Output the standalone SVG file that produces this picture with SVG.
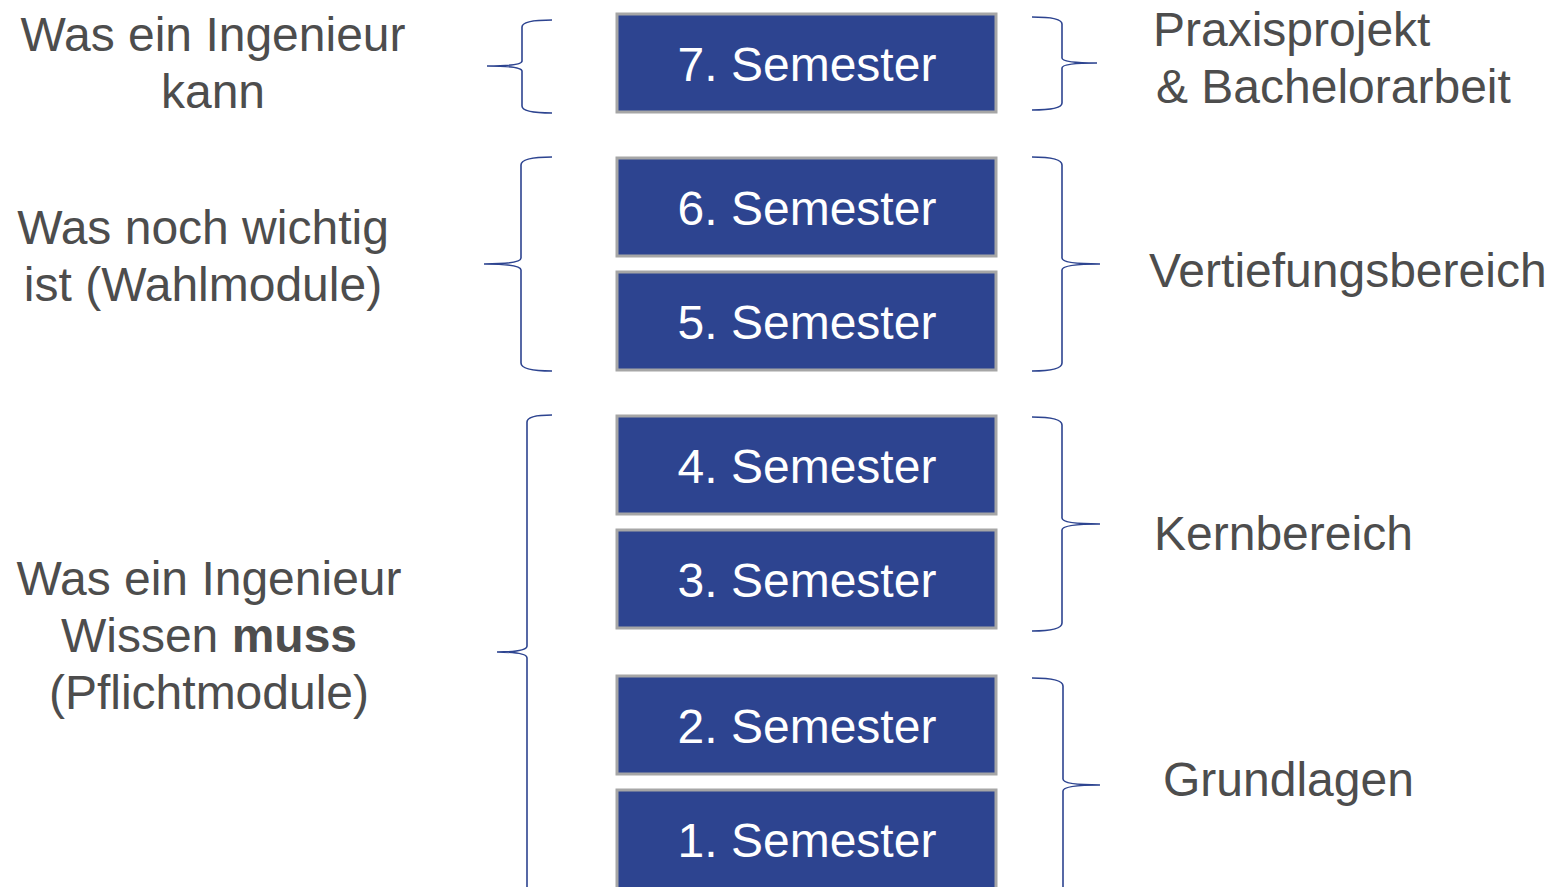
<svg xmlns="http://www.w3.org/2000/svg" width="1552" height="887" viewBox="0 0 1552 887">
<style>
.box{fill:#2D4490;stroke:#A6A6A6;stroke-width:3}
.sem{font-family:"Liberation Sans",Arial,sans-serif;font-size:48px;fill:#FFFFFF;text-anchor:middle}
.lbl{font-family:"Liberation Sans",Arial,sans-serif;font-size:48px;fill:#4D4D4D}
.mid{text-anchor:middle}
.brace{fill:none;stroke:#2D4490;stroke-width:1.6}
</style>
<rect width="1552" height="887" fill="#FFFFFF"/>
<g id="sem7"><rect class="box" x="617" y="14" width="379" height="98"/><text class="sem" x="807" y="81">7. Semester</text></g>
<g id="sem6"><rect class="box" x="617" y="158" width="379" height="98"/><text class="sem" x="807" y="225">6. Semester</text></g>
<g id="sem5"><rect class="box" x="617" y="272" width="379" height="98"/><text class="sem" x="807" y="339">5. Semester</text></g>
<g id="sem4"><rect class="box" x="617" y="416" width="379" height="98"/><text class="sem" x="807" y="483">4. Semester</text></g>
<g id="sem3"><rect class="box" x="617" y="530" width="379" height="98"/><text class="sem" x="807" y="597">3. Semester</text></g>
<g id="sem2"><rect class="box" x="617" y="676" width="379" height="98"/><text class="sem" x="807" y="743">2. Semester</text></g>
<g id="sem1"><rect class="box" x="617" y="790" width="379" height="110"/><text class="sem" x="807" y="857">1. Semester</text></g>

<g id="braces">
<path class="brace" d="M552,20 Q522,20 522,27 L522,61 Q522,66 487,66 Q522,66 522,71 L522,106 Q522,113 552,113"/>
<path class="brace" d="M1032,17 Q1062,17 1062,24 L1062,58 Q1062,63 1097,63 Q1062,63 1062,68 L1062,103 Q1062,110 1032,110"/>
<path class="brace" d="M552,157 Q521,157 521,165 L521,258 Q521,264 484,264 Q521,264 521,270 L521,363 Q521,371 552,371"/>
<path class="brace" d="M1032,157 Q1062,157 1062,165 L1062,258 Q1062,264 1100,264 Q1062,264 1062,270 L1062,363 Q1062,371 1032,371"/>
<path class="brace" d="M552,415 Q527,415 527,422 L527,646 Q527,652 497,652 Q527,652 527,658 L527,900"/>
<path class="brace" d="M1032,417 Q1062,417 1062,425 L1062,518 Q1062,524 1100,524 Q1062,524 1062,530 L1062,623 Q1062,631 1032,631"/>
<path class="brace" d="M1032,678 Q1063,678 1063,686 L1063,779 Q1063,785 1100,785 Q1063,785 1063,791 L1063,900"/>
</g>

<g id="label-kann">
<text class="lbl mid" x="213" y="51">Was ein Ingenieur</text>
<text class="lbl mid" x="213" y="108">kann</text>
</g>
<g id="label-wahl">
<text class="lbl mid" x="203" y="244">Was noch wichtig</text>
<text class="lbl mid" x="203" y="301">ist (Wahlmodule)</text>
</g>
<g id="label-pflicht">
<text class="lbl mid" x="209" y="595">Was ein Ingenieur</text>
<text class="lbl mid" x="209" y="652">Wissen <tspan font-weight="bold">muss</tspan></text>
<text class="lbl mid" x="209" y="709">(Pflichtmodule)</text>
</g>
<g id="label-praxis">
<text class="lbl" x="1153" y="46">Praxisprojekt</text>
<text class="lbl" x="1156" y="103">&amp; Bachelorarbeit</text>
</g>
<g id="label-vertiefung"><text class="lbl" x="1149" y="287">Vertiefungsbereich</text></g>
<g id="label-kern"><text class="lbl" x="1154" y="550">Kernbereich</text></g>
<g id="label-grund"><text class="lbl" x="1163" y="796">Grundlagen</text></g>
</svg>
